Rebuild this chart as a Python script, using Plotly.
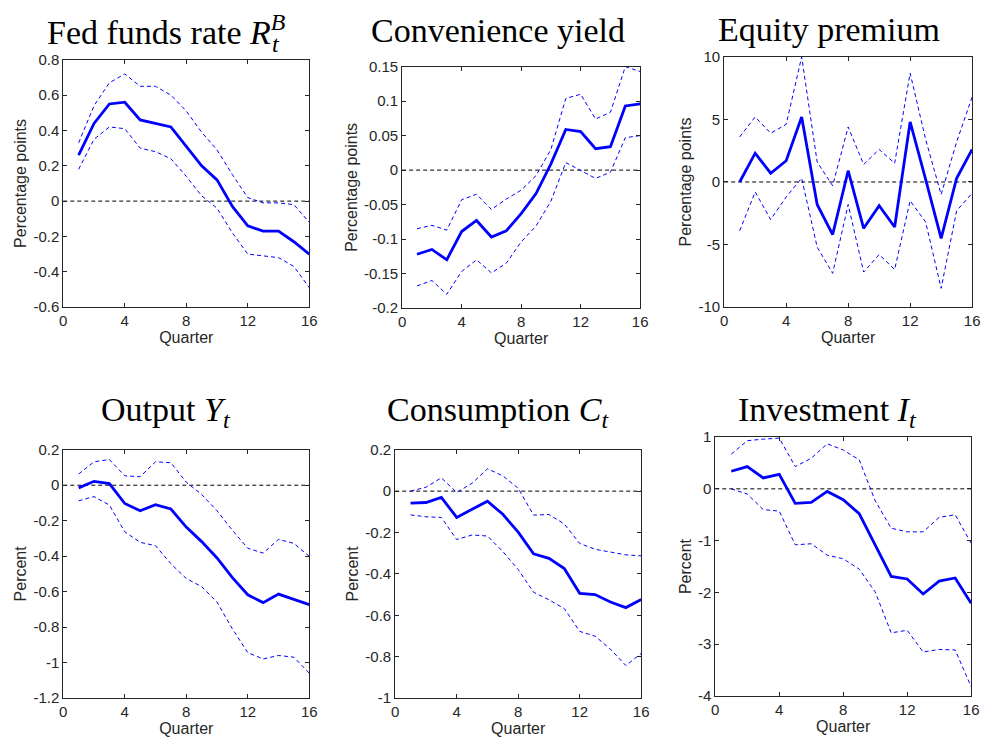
import plotly.graph_objects as go

W, H = 991, 749

quarters = list(range(1, 17))

# Fed funds rate (percentage points)
fed_mean = [0.26, 0.44, 0.55, 0.56, 0.46, 0.44, 0.42, 0.31, 0.20, 0.12, -0.03, -0.14, -0.17, -0.17, -0.23, -0.30]
fed_hi = [0.33, 0.54, 0.67, 0.72, 0.65, 0.65, 0.60, 0.51, 0.39, 0.29, 0.15, 0.02, -0.01, -0.01, -0.02, -0.12]
fed_lo = [0.18, 0.35, 0.42, 0.41, 0.30, 0.28, 0.24, 0.14, 0.03, -0.04, -0.18, -0.30, -0.31, -0.32, -0.37, -0.49]

# Convenience yield
cy_mean = [-0.122, -0.115, -0.130, -0.089, -0.073, -0.097, -0.088, -0.063, -0.034, 0.009, 0.059, 0.056, 0.031, 0.034, 0.093, 0.096]
cy_hi = [-0.085, -0.080, -0.087, -0.043, -0.035, -0.057, -0.042, -0.029, -0.008, 0.030, 0.104, 0.110, 0.074, 0.084, 0.150, 0.143]
cy_lo = [-0.168, -0.160, -0.180, -0.147, -0.130, -0.149, -0.135, -0.104, -0.081, -0.045, 0.011, 0.000, -0.012, -0.003, 0.047, 0.050]

# Equity premium
ep_mean = [0.0, 2.3, 0.7, 1.7, 5.2, -1.8, -4.2, 0.9, -3.7, -1.9, -3.6, 4.8, 0.2, -4.5, 0.3, 2.6]
ep_hi = [3.6, 5.2, 3.9, 4.6, 10.0, 1.6, -0.3, 4.4, 1.4, 2.6, 1.5, 8.7, 3.4, -1.0, 3.2, 6.8]
ep_lo = [-3.9, -0.8, -3.0, -1.2, 0.3, -5.2, -7.3, -1.8, -7.2, -5.8, -7.0, -1.5, -3.2, -8.5, -2.3, -0.9]

# Output (percent)
y_mean = [-0.015, 0.022, 0.009, -0.103, -0.144, -0.110, -0.134, -0.236, -0.318, -0.410, -0.521, -0.618, -0.662, -0.614, -0.644, -0.673]
y_hi = [0.063, 0.132, 0.145, 0.053, 0.048, 0.132, 0.127, 0.017, -0.052, -0.144, -0.254, -0.355, -0.383, -0.305, -0.328, -0.401]
y_lo = [-0.088, -0.064, -0.112, -0.263, -0.322, -0.341, -0.443, -0.526, -0.572, -0.659, -0.810, -0.944, -0.980, -0.960, -0.970, -1.060]

# Consumption
c_mean = [-0.058, -0.055, -0.030, -0.127, -0.088, -0.049, -0.112, -0.198, -0.303, -0.325, -0.374, -0.494, -0.500, -0.536, -0.563, -0.524]
c_hi = [0.000, 0.019, 0.064, -0.006, 0.038, 0.108, 0.074, 0.014, -0.116, -0.113, -0.159, -0.253, -0.281, -0.296, -0.308, -0.313]
c_lo = [-0.115, -0.124, -0.127, -0.234, -0.212, -0.217, -0.292, -0.379, -0.489, -0.525, -0.568, -0.678, -0.701, -0.764, -0.843, -0.785]

# Investment
i_mean = [0.34, 0.43, 0.21, 0.28, -0.28, -0.26, -0.05, -0.21, -0.48, -1.09, -1.69, -1.74, -2.03, -1.78, -1.72, -2.21]
i_hi = [0.67, 0.93, 0.96, 0.98, 0.43, 0.59, 0.87, 0.75, 0.56, -0.23, -0.76, -0.83, -0.83, -0.55, -0.50, -1.05]
i_lo = [0.00, -0.10, -0.40, -0.43, -1.08, -1.06, -1.28, -1.35, -1.55, -1.99, -2.78, -2.73, -3.15, -3.10, -3.11, -3.82]

x_ticks = [0, 4, 8, 12, 16]

fed_ticks = [-0.6, -0.4, -0.2, 0, 0.2, 0.4, 0.6, 0.8]
fed_labels = ["-0.6", "-0.4", "-0.2", "0", "0.2", "0.4", "0.6", "0.8"]
cy_ticks = [-0.2, -0.15, -0.1, -0.05, 0, 0.05, 0.1, 0.15]
cy_labels = ["-0.2", "-0.15", "-0.1", "-0.05", "0", "0.05", "0.1", "0.15"]
ep_ticks = [-10, -5, 0, 5, 10]
ep_labels = ["-10", "-5", "0", "5", "10"]
y_ticks = [-1.2, -1, -0.8, -0.6, -0.4, -0.2, 0, 0.2]
y_labels = ["-1.2", "-1", "-0.8", "-0.6", "-0.4", "-0.2", "0", "0.2"]
c_ticks = [-1, -0.8, -0.6, -0.4, -0.2, 0, 0.2]
c_labels = ["-1", "-0.8", "-0.6", "-0.4", "-0.2", "0", "0.2"]
i_ticks = [-4, -3, -2, -1, 0, 1]
i_labels = ["-4", "-3", "-2", "-1", "0", "1"]

panels = [
    ("Fed funds rate <i>R</i><sup><i>B</i></sup>", "Percentage points",
     fed_mean, fed_hi, fed_lo, [-0.6, 0.8], fed_ticks, fed_labels),
    ("Convenience yield", "Percentage points", cy_mean, cy_hi, cy_lo, [-0.2, 0.15], cy_ticks, cy_labels),
    ("Equity premium", "Percentage points", ep_mean, ep_hi, ep_lo, [-10, 10], ep_ticks, ep_labels),
    ("Output <i>Y</i><sub><i>t</i></sub>", "Percent", y_mean, y_hi, y_lo, [-1.2, 0.2], y_ticks, y_labels),
    ("Consumption <i>C</i><sub><i>t</i></sub>", "Percent", c_mean, c_hi, c_lo, [-1, 0.2], c_ticks, c_labels),
    ("Investment <i>I</i><sub><i>t</i></sub>", "Percent", i_mean, i_hi, i_lo, [-4, 1], i_ticks, i_labels),
]

# plot area boxes in pixels: left, top, right, bottom
boxes = [
    (60, 52, 309, 305),
    (403, 59, 644, 306),
    (729, 49, 980, 305),
    (60, 451, 309, 705),
    (396, 451, 645, 705),
    (720, 438, 979, 703),
]
# title anchor (x, y, xanchor)
title_pos = [(287, 21, "right"), (500, 22, "center"), (835, 21, "center"),
             (164, 412, "center"), (500, 412, "center"), (834, 412, "center")]

axis_col = "#262626"
blue = "#0000ff"
sans = "Liberation Sans"

fig = go.Figure()
annotations = []
shapes = []

for k, (title, ylab, mean, hi, lo, yr, yt, ytl) in enumerate(panels):
    n = "" if k == 0 else str(k + 1)
    xa, ya = "x" + n, "y" + n
    for band in (hi, lo):
        fig.add_trace(go.Scatter(x=quarters, y=band, mode="lines", xaxis=xa, yaxis=ya,
                                 line=dict(color=blue, width=1, dash="4px,3px"), showlegend=False))
    fig.add_trace(go.Scatter(x=quarters, y=mean, mode="lines", xaxis=xa, yaxis=ya,
                             line=dict(color=blue, width=2.8), showlegend=False))
    l, t, r, b = boxes[k]
    common = dict(showline=True, linecolor=axis_col, linewidth=1, mirror="ticks",
                  ticks="inside", ticklen=4, tickcolor=axis_col, showgrid=False, zeroline=False,
                  tickfont=dict(family=sans, size=15, color=axis_col))
    fig.layout["xaxis" + n] = dict(common, domain=[l / W, r / W], anchor=ya, range=[0, 16],
                                   tickvals=x_ticks, title=dict(text="Quarter", standoff=0,
                                   font=dict(family=sans, size=16, color=axis_col)))
    fig.layout["yaxis" + n] = dict(common, domain=[1 - b / H, 1 - t / H], anchor=xa, range=yr,
                                   tickvals=yt, ticktext=ytl, title=dict(text=ylab, standoff=2,
                                   font=dict(family=sans, size=16, color=axis_col)))
    shapes.append(dict(type="line", xref=xa + " domain", yref=ya, x0=0, x1=1, y0=0, y1=0,
                       line=dict(color="black", width=1, dash="4px,3px"), layer="below"))
    tx, ty, anc = title_pos[k]
    annotations.append(dict(text=title, xref="paper", yref="paper", x=tx / W, y=1 - ty / H,
                            xanchor=anc, yanchor="middle", showarrow=False,
                            font=dict(family="Liberation Serif", size=34, color="black")))

# subscript t under the superscript B of R
annotations.append(dict(text="<i>t</i>", xref="paper", yref="paper", x=269 / W, y=1 - 36 / H,
                        xanchor="left", yanchor="middle", showarrow=False,
                        font=dict(family="Liberation Serif", size=24, color="black")))

fig.update_layout(width=W, height=H, margin=dict(l=0, r=0, t=0, b=0),
                  paper_bgcolor="white", plot_bgcolor="white",
                  annotations=annotations, shapes=shapes)

fig.write_html("out.html", config={"displayModeBar": False},
               post_script="document.body.style.margin='0';")
